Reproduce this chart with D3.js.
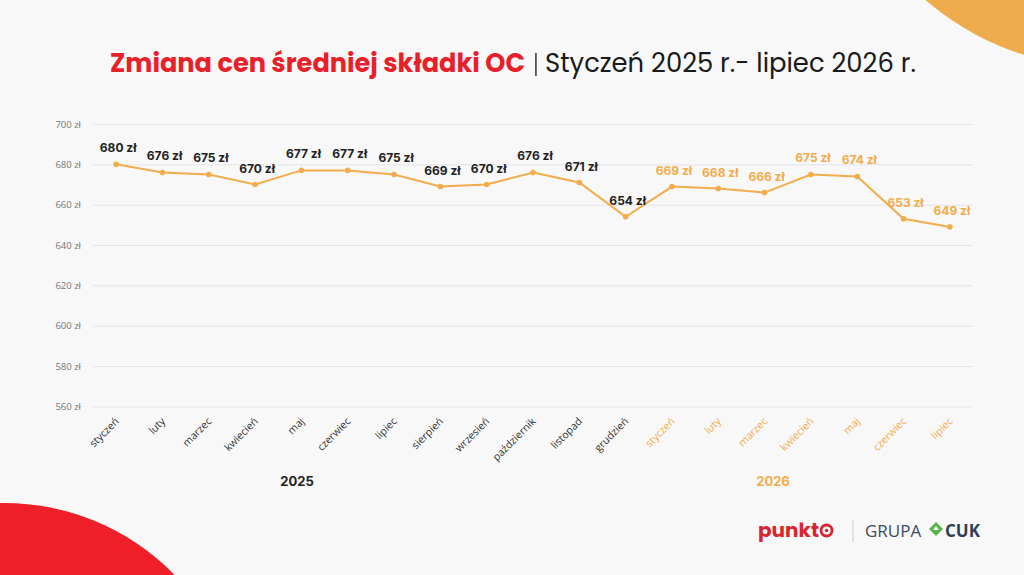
<!DOCTYPE html>
<html><head><meta charset="utf-8">
<script src="https://cdn.jsdelivr.net/npm/d3@7"></script>
<style>
html,body{margin:0;padding:0;background:#f8f8f8;}
svg{display:block;}
</style></head>
<body>
<svg id="c" width="1024" height="575"></svg>
<script>
const months = ["styczeń","luty","marzec","kwiecień","maj","czerwiec","lipiec","sierpień","wrzesień","październik","listopad","grudzień","styczeń","luty","marzec","kwiecień","maj","czerwiec","lipiec"];
const years = ["2025","2025","2025","2025","2025","2025","2025","2025","2025","2025","2025","2025","2026","2026","2026","2026","2026","2026","2026"];
const values = [680,676,675,670,677,677,675,669,670,676,671,654,669,668,666,675,674,653,649];
const yTicks = [560,580,600,620,640,660,680,700];
const yearLabels = ["2025","2026"];

const ORANGE = "#F2AC4B", RED = "#E8202A", DARK = "#222222";
const W = 1024, H = 575;
const svg = d3.select("#c");
svg.append("rect").attr("width",W).attr("height",H).attr("fill","#f8f8f8");

// decorative circles
svg.append("circle").attr("cx",4).attr("cy",741).attr("r",238).attr("fill","#EE1F28");
svg.append("circle").attr("cx",1105).attr("cy",-207).attr("r",274).attr("fill","#EFAC4C");

// title
const t1 = svg.append("text").attr("x",110).attr("y",72).attr("font-family","Poppins, 'Open Sans', Inter, sans-serif")
  .attr("font-weight",700).attr("fill",RED).attr("font-size",24).text("Zmiana cen średniej składki OC");
svg.append("rect").attr("x",535).attr("y",53).attr("width",1.8).attr("height",23).attr("fill","#555");
const t2 = svg.append("text").attr("x",545).attr("y",72).attr("font-family","Poppins, 'Open Sans', Inter, sans-serif").attr("font-size",24).attr("fill","#1a1a1a").text("Styczeń 2025 r.- lipiec 2026 r.");
function fit(sel, target){ const w = sel.node().getComputedTextLength(); const fs = +sel.attr("font-size"); sel.attr("font-size", fs*target/w); }
fit(t1, 415); fit(t2, 371);

// scales
const x = d3.scalePoint().domain(d3.range(months.length)).range([93,973]).padding(0.5);
const y = d3.scaleLinear().domain([560,700]).range([406.5,124]);

// grid + y axis
const yAxis = d3.axisLeft(y).tickValues(yTicks).tickSize(-(973-93)).tickFormat(d=>d+" zł");
const gy = svg.append("g").attr("transform","translate(93,0)").call(yAxis);
gy.select(".domain").remove();
gy.selectAll(".tick line").attr("stroke","#e4e4e4").attr("stroke-width",1);
gy.selectAll(".tick text").attr("x",-12).attr("fill","#777").attr("font-size",9.5).attr("font-family","'Open Sans', sans-serif");

// x labels
const xAxis = d3.axisBottom(x).tickSize(0).tickFormat(i=>months[i]);
const gx = svg.append("g").attr("transform","translate(0,418)").call(xAxis);
gx.select(".domain").remove();
gx.selectAll(".tick text")
  .attr("text-anchor","end").attr("dy",0).attr("y",0).attr("x",0)
  .attr("transform","translate(3,4) rotate(-45)")
  .attr("font-size",10.5).attr("font-family","'Open Sans', sans-serif")
  .attr("fill",i=>years[i]==="2025"?"#333":ORANGE);

// year labels
svg.append("text").attr("x",297).attr("y",486).attr("text-anchor","middle").attr("font-weight",700).attr("font-size",13).attr("font-family","Inter, sans-serif").attr("fill","#222").text(yearLabels[0]);
svg.append("text").attr("x",773).attr("y",486).attr("text-anchor","middle").attr("font-weight",700).attr("font-size",13).attr("font-family","Inter, sans-serif").attr("fill",ORANGE).text(yearLabels[1]);

// line
const line = d3.line().x((d,i)=>x(i)).y(d=>y(d));
svg.append("path").datum(values).attr("d",line).attr("fill","none").attr("stroke",ORANGE).attr("stroke-width",2);
svg.append("g").selectAll("circle").data(values).join("circle")
  .attr("cx",(d,i)=>x(i)).attr("cy",d=>y(d)).attr("r",2.8).attr("fill",ORANGE);

// value labels
svg.append("g").selectAll("text").data(values).join("text")
  .attr("x",(d,i)=>x(i)+2).attr("y",d=>y(d)-12)
  .attr("text-anchor","middle").attr("font-weight",700).attr("font-size",12)
  .attr("font-family","Inter, sans-serif")
  .attr("fill",(d,i)=>years[i]==="2025"?DARK:ORANGE)
  .text(d=>d+" zł");

// logos
const lg = svg.append("g");
const pk = lg.append("text").attr("x",758).attr("y",537).attr("font-family","Poppins, Lato, sans-serif").attr("font-weight",700).attr("font-size",20).attr("fill","#D9252F").text("punkt");
const pw = 758 + pk.node().getComputedTextLength();
lg.append("circle").attr("cx",pw+7.5).attr("cy",530.5).attr("r",5.5).attr("fill","none").attr("stroke","#D9252F").attr("stroke-width",2.8);
lg.append("circle").attr("cx",pw+7.5).attr("cy",530.5).attr("r",1.8).attr("fill","#D9252F");
lg.append("rect").attr("x",852.5).attr("y",520).attr("width",1).attr("height",22).attr("fill","#ccc");
lg.append("text").attr("x",865).attr("y",537).attr("font-family","'Open Sans', sans-serif").attr("font-size",17).attr("fill","#3E4C66").text("GRUPA");
lg.append("path").attr("d","M936,522 L943,529 L936,536 L929,529 Z").attr("fill","#5DB34A");
lg.append("path").attr("d","M936,526 L939,530 L933,530 Z").attr("fill","#f8f8f8");
lg.append("text").attr("x",945).attr("y",537).attr("font-family","'Open Sans', sans-serif").attr("font-weight",700).attr("font-size",17).attr("fill","#2F3E58").text("CUK");
</script>
</body></html>
